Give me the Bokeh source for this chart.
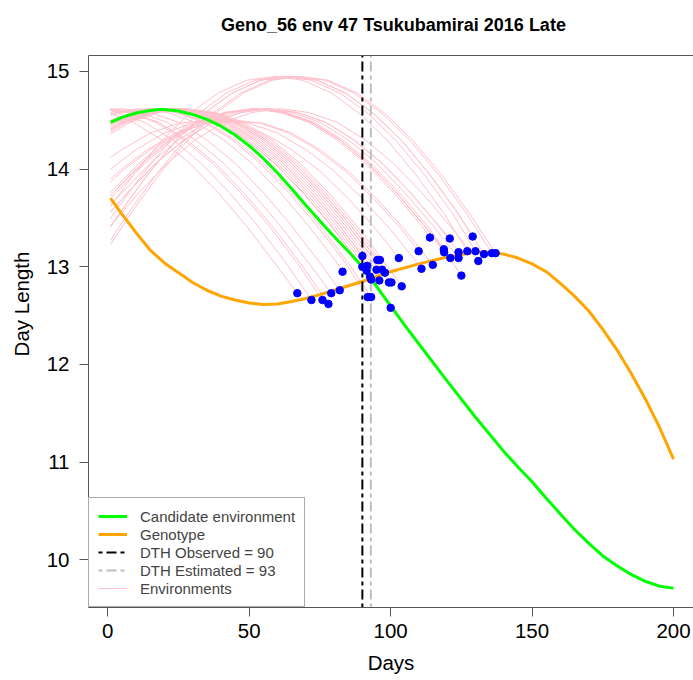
from bokeh.plotting import figure
from bokeh.models import Range1d, Legend, LegendItem, FixedTicker, Label, Span
from bokeh.embed import file_html
from bokeh.resources import INLINE

# ---------------- data ----------------
title_text = "Geno_56 env 47 Tsukubamirai 2016 Late"
x_label = "Days"
y_label = "Day Length"
x_ticks = [0, 50, 100, 150, 200]
y_ticks = [10, 11, 12, 13, 14, 15]

# candidate environment (green)
green_day = [1, 5, 10, 15, 18, 20, 25, 30, 35, 40, 45, 50, 55, 60, 65, 70, 75, 80,
             85, 90, 95, 100, 105, 110, 120, 130, 140, 145, 150, 155, 160, 165,
             170, 175, 180, 185, 190, 195, 200]
green_dl = [14.48, 14.53, 14.575, 14.60, 14.61, 14.61, 14.595, 14.56, 14.51, 14.44,
            14.35, 14.24, 14.11, 13.96, 13.80, 13.63, 13.47, 13.31, 13.16, 13.00,
            12.80, 12.60, 12.40, 12.21, 11.83, 11.46, 11.11, 10.95, 10.80, 10.63,
            10.47, 10.31, 10.17, 10.04, 9.94, 9.85, 9.78, 9.73, 9.71]

# genotype (orange)
geno_day = [1, 5, 10, 15, 20, 25, 30, 35, 40, 45, 50, 55, 60, 65, 70, 75, 80, 90,
            100, 110, 120, 130, 135, 140, 145, 150, 155, 160, 165, 170, 175, 180,
            185, 190, 195, 200]
geno_dl = [13.70, 13.54, 13.35, 13.17, 13.04, 12.94, 12.84, 12.76, 12.70, 12.66,
           12.63, 12.615, 12.62, 12.645, 12.675, 12.715, 12.76, 12.85, 12.95, 13.03,
           13.10, 13.15, 13.15, 13.13, 13.09, 13.03, 12.95, 12.83, 12.70, 12.55,
           12.36, 12.15, 11.91, 11.65, 11.36, 11.03]

dth_observed = 90
dth_estimated = 93

# seasonal day-length shapes around the longest day (days from the peak)
season_offset = [-90, -80, -70, -60, -50, -40, -30, -20, -10, 0,
                 10, 20, 30, 40, 50, 60, 70, 80, 90]
season_dl_mid = [12.21, 12.63, 13.04, 13.42, 13.76, 14.06, 14.30, 14.48, 14.58, 14.62,
                 14.58, 14.48, 14.30, 14.06, 13.76, 13.42, 13.04, 12.63, 12.21]
season_dl_high = [12.11, 12.61, 13.09, 13.54, 13.94, 14.29, 14.57, 14.78, 14.91, 14.95,
                  14.91, 14.78, 14.57, 14.29, 13.94, 13.54, 13.09, 12.61, 12.11]
season_dl_low = [12.25, 12.64, 13.02, 13.38, 13.70, 13.98, 14.20, 14.37, 14.47, 14.50,
                 14.47, 14.37, 14.20, 13.98, 13.70, 13.38, 13.02, 12.64, 12.25]

# environments: heading day (blue points), day length at heading,
# day of longest day-length, shape group, day length on day 1
env_dth = [67.0, 72.0, 75.9, 78.0, 79.0, 82.0, 83.0, 90.0, 90.0, 91.7, 91.5, 92.7,
           93.1, 91.9, 93.1, 95.3, 96.2, 95.0, 97.0, 98.0, 96.0, 99.4, 100.3, 100.0,
           102.9, 103.9, 109.9, 110.9, 113.9, 114.9, 118.8, 118.9, 120.9, 121.1,
           124.0, 124.0, 125.0, 127.1, 129.0, 130.0, 131.0, 133.0, 135.8, 137.1]
env_dth_dl = [12.73, 12.66, 12.66, 12.62, 12.73, 12.76, 12.95, 13.11, 13.00, 13.01,
              12.96, 12.90, 12.87, 12.69, 12.69, 13.07, 13.07, 12.97, 12.97, 12.94,
              12.86, 12.84, 12.84, 12.58, 13.09, 12.80, 13.16, 12.98, 13.30, 13.02,
              13.18, 13.15, 13.29, 13.09, 13.15, 13.09, 12.91, 13.16, 13.31, 13.16,
              13.06, 13.13, 13.14, 13.14]
env_peak_day = [-11, -7, -3, -2, 1, 5, 11, 22, 19, 21, 20, 19, 19, 14, 15, 26, 27, 23,
                25, 26, 22, 24, 25, 19, 35, 28, 44, 40, 51, 45, 53, 52, 57, 52, 57, 55,
                52, 59, 64, 62, 61, 64, 67, 68]
env_group = ["mid", "mid", "mid", "mid", "mid", "mid", "mid", "mid", "mid", "mid",
             "mid", "mid", "mid", "mid", "mid", "mid", "mid", "mid", "mid", "mid",
             "mid", "mid", "mid", "mid", "low", "mid", "low", "low", "mid", "low",
             "mid", "mid", "mid", "mid", "mid", "mid", "mid", "high", "high", "high",
             "mid", "high", "high", "high"]
env_start_dl = [14.57, 14.60, 14.61, 14.61, 14.62, 14.61, 14.58, 14.46, 14.50, 14.48,
                14.49, 14.50, 14.50, 14.56, 14.55, 14.40, 14.38, 14.45, 14.41, 14.40,
                14.46, 14.43, 14.41, 14.50, 14.12, 14.36, 13.90, 14.00, 13.76, 13.87,
                13.70, 13.73, 13.56, 13.73, 13.56, 13.63, 13.73, 13.62, 13.41, 13.49,
                13.42, 13.41, 13.27, 13.23]

legend_labels = ["Candidate environment", "Genotype",
                 "DTH Observed = %d" % dth_observed,
                 "DTH Estimated = %d" % dth_estimated, "Environments"]

# ---------------- build environment curves ----------------
shape_tables = {"mid": season_dl_mid, "high": season_dl_high, "low": season_dl_low}
env_xs, env_ys = [], []
for d, v, t, g, s in zip(env_dth, env_dth_dl, env_peak_day, env_group, env_start_dl):
    xs, ys = [1], [s]
    for o, val in zip(season_offset, shape_tables[g]):
        day = t + o
        if 1 < day < d:
            xs.append(day)
            ys.append(val)
    xs.append(d)
    ys.append(v)
    env_xs.append(xs)
    env_ys.append(ys)

# ---------------- figure ----------------
FONT = "Liberation Sans"
BOX = "#555555"
# plotting region (R style box) and an extended frame that holds the title
box_y = (9.5116, 15.1638)
x_range = Range1d(-6.82, 207.07)
y_range = Range1d(9.5116, 15.727)

p = figure(frame_width=605, frame_height=607, x_range=x_range, y_range=y_range,
           output_backend="svg", toolbar_location=None,
           min_border_left=88, min_border_right=0, min_border_top=0,
           min_border_bottom=72)
p.background_fill_color = "white"
p.border_fill_color = "white"
p.outline_line_color = None
p.xgrid.visible = False
p.ygrid.visible = False

# top edge of the plot box
p.add_layout(Span(location=box_y[1], dimension="width", line_color=BOX,
                  line_width=1))

title = Label(x=101.0, y=15.481, text=title_text, text_align="center",
              text_baseline="middle", text_font=FONT, text_font_style="bold",
              text_font_size="18px", text_color="black")
p.add_layout(title)

for ax in (p.xaxis[0], p.yaxis[0]):
    ax.major_tick_in = 0
    ax.major_tick_out = 9
    ax.minor_tick_line_color = None
    ax.axis_line_color = BOX
    ax.major_tick_line_color = BOX
    ax.major_label_text_font = FONT
    ax.major_label_text_font_size = "20.5px"
    ax.major_label_text_color = "black"
    ax.axis_label_text_font = FONT
    ax.axis_label_text_font_size = "20.5px"
    ax.axis_label_text_font_style = "normal"
    ax.axis_label_text_color = "black"

p.xaxis[0].ticker = FixedTicker(ticks=x_ticks)
p.yaxis[0].ticker = FixedTicker(ticks=y_ticks)
p.yaxis[0].bounds = box_y
p.xaxis[0].axis_label = x_label
p.yaxis[0].axis_label = y_label
p.xaxis[0].major_label_standoff = 7
p.xaxis[0].axis_label_standoff = 10
p.yaxis[0].major_label_standoff = 10
p.yaxis[0].axis_label_standoff = 11

r_env = p.multi_line(env_xs, env_ys, line_color="pink", line_width=1)
r_green = p.line(green_day, green_dl, line_color="#00FF00", line_width=3)
r_geno = p.line(geno_day, geno_dl, line_color="#FFA500", line_width=3)
r_obs = p.line([dth_observed, dth_observed], list(box_y),
               line_color="black", line_width=2, line_dash="4 4 10 4")
r_est = p.line([dth_estimated, dth_estimated], list(box_y),
               line_color="#BEBEBE", line_width=2, line_dash="4 4 10 4")
p.scatter(env_dth, env_dth_dl, size=7.5, fill_color="blue", line_color="blue")

legend = Legend(items=[LegendItem(label=legend_labels[0], renderers=[r_green]),
                       LegendItem(label=legend_labels[1], renderers=[r_geno]),
                       LegendItem(label=legend_labels[2], renderers=[r_obs]),
                       LegendItem(label=legend_labels[3], renderers=[r_est]),
                       LegendItem(label=legend_labels[4], renderers=[r_env])],
                location="bottom_left")
legend.border_line_color = BOX
legend.border_line_width = 1
legend.background_fill_color = "white"
legend.background_fill_alpha = 1
legend.label_text_font = FONT
legend.label_text_font_size = "15px"
legend.glyph_width = 29
legend.glyph_height = 18
legend.label_height = 18
legend.spacing = 0
legend.padding = 9
legend.margin = 0
legend.label_standoff = 13
p.add_layout(legend)

open("out.html", "w").write(file_html(p, INLINE))
